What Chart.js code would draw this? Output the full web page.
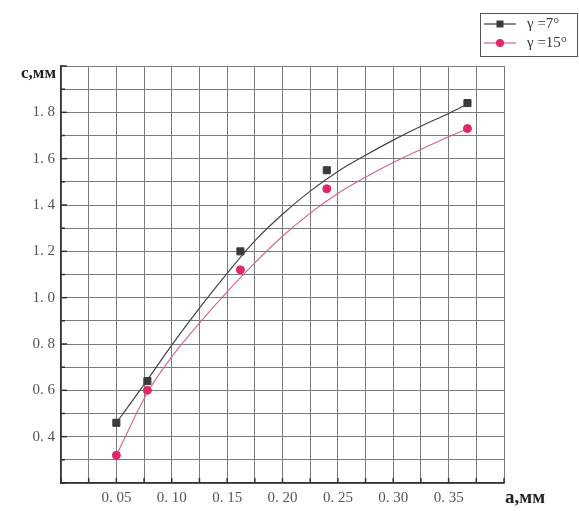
<!DOCTYPE html>
<html>
<head>
<meta charset="utf-8">
<script src="https://cdn.jsdelivr.net/npm/chart.js@4.4.0/dist/chart.umd.min.js"></script>
<style>
html, body { margin: 0; padding: 0; background: #fff; }
#contenedor { width: 579px; height: 511px; position: relative; }
</style>
</head>
<body>
<div id="contenedor"><canvas id="grafico"></canvas></div>
<script>
// datos medidos
const aMedido = [0.05, 0.078, 0.162, 0.24, 0.367];
const c7 = [0.46, 0.64, 1.20, 1.55, 1.84];
const c15 = [0.32, 0.60, 1.12, 1.47, 1.73];

// curvas de ajuste
const aCurva = [0.05, 0.078, 0.1, 0.125, 0.15, 0.175, 0.2, 0.225, 0.25, 0.275, 0.3, 0.325, 0.35, 0.367];
const curva7 = [0.46, 0.645, 0.795, 0.955, 1.105, 1.245, 1.36, 1.46, 1.545, 1.615, 1.68, 1.74, 1.795, 1.835];
const curva15 = [0.32, 0.59, 0.745, 0.89, 1.025, 1.15, 1.265, 1.365, 1.45, 1.52, 1.583, 1.64, 1.695, 1.728];

// etiquetas de los ejes
const xTickVals = [0.05, 0.10, 0.15, 0.20, 0.25, 0.30, 0.35];
const xTickLabels = ['0. 05', '0. 10', '0. 15', '0. 20', '0. 25', '0. 30', '0. 35'];
const yTickVals = [0.4, 0.6, 0.8, 1.0, 1.2, 1.4, 1.6, 1.8];
const yTickLabels = ['0. 4', '0. 6', '0. 8', '1. 0', '1. 2', '1. 4', '1. 6', '1. 8'];
const nombres = ['\u03b3 =7\u00b0', '\u03b3 =15\u00b0'];

const colorNegro = '#3a3a3a';
const colorRojo = '#e3266a';
const lineaRoja = '#d26484';
const fuente = '"Liberation Serif", "DejaVu Serif", serif';

function puntos(xs, ys) {
	return xs.map((x, i) => ({ x: x, y: ys[i] }));
}

function buscar(vals, labels, v) {
	for (let i = 0; i < vals.length; i++) {
		if (Math.abs(vals[i] - v) < 1e-6) return labels[i];
	}
	return '';
}

// marcas interiores, titulos y leyenda
const extras = {
	id: 'extras',
	afterDraw(chart) {
		const ctx = chart.ctx;
		const area = chart.chartArea;
		const sx = chart.scales.x;
		const sy = chart.scales.y;
		ctx.save();
		ctx.strokeStyle = '#333';
		ctx.lineWidth = 1.5;
		sy.ticks.forEach(t => {
			const py = sy.getPixelForValue(t.value);
			const mayor = Math.abs(Math.round(t.value * 10) % 2) === 0;
			const l = mayor ? 6 : 4;
			ctx.beginPath();
			ctx.moveTo(area.left, py);
			ctx.lineTo(area.left + l, py);
			ctx.stroke();
		});
		sx.ticks.forEach(t => {
			const px = sx.getPixelForValue(t.value);
			ctx.beginPath();
			ctx.moveTo(px, area.bottom);
			ctx.lineTo(px, area.bottom - 5);
			ctx.stroke();
		});

		// titulos de ejes
		ctx.fillStyle = '#222';
		ctx.font = 'bold 17px ' + fuente;
		ctx.textAlign = 'right';
		ctx.textBaseline = 'alphabetic';
		ctx.fillText('c,\u043c\u043c', 56, 78);
		ctx.textAlign = 'left';
		ctx.font = 'bold 19px ' + fuente;
		ctx.fillText('a,\u043c\u043c', 505, 503);

		// leyenda
		ctx.strokeStyle = '#555';
		ctx.lineWidth = 1;
		ctx.strokeRect(480.5, 13.5, 97, 43);
		const filas = [24, 43];
		chart.data.datasets.slice(0, 2).forEach((ds, i) => {
			const y = filas[i];
			ctx.strokeStyle = i === 0 ? colorNegro : lineaRoja;
			ctx.lineWidth = 1.2;
			ctx.beginPath();
			ctx.moveTo(484, y);
			ctx.lineTo(516, y);
			ctx.stroke();
			ctx.fillStyle = ds.backgroundColor;
			if (i === 0) {
				ctx.fillRect(496.5, y - 3.5, 7, 7);
			} else {
				ctx.beginPath();
				ctx.arc(500, y, 4, 0, Math.PI * 2);
				ctx.fill();
			}
			ctx.fillStyle = '#333';
			ctx.font = '15px ' + fuente;
			ctx.textAlign = 'left';
			ctx.textBaseline = 'middle';
			ctx.fillText(ds.label, 527, y);
		});
		ctx.restore();
	}
};

const ctx = document.getElementById('grafico').getContext('2d');
const miGrafico = new Chart(ctx, {
	type: 'scatter',
	data: {
		datasets: [
			{
				label: nombres[0],
				data: puntos(aMedido, c7),
				backgroundColor: colorNegro,
				borderColor: colorNegro,
				pointStyle: 'rect',
				pointRadius: 5,
				showLine: false,
				order: 0
			},
			{
				label: nombres[1],
				data: puntos(aMedido, c15),
				backgroundColor: colorRojo,
				borderColor: colorRojo,
				pointStyle: 'circle',
				pointRadius: 4,
				showLine: false,
				order: 0
			},
			{
				label: 'ajuste7',
				data: puntos(aCurva, curva7),
				borderColor: '#444',
				borderWidth: 1.2,
				pointRadius: 0,
				showLine: true,
				cubicInterpolationMode: 'monotone',
				order: 1
			},
			{
				label: 'ajuste15',
				data: puntos(aCurva, curva15),
				borderColor: lineaRoja,
				borderWidth: 1.1,
				pointRadius: 0,
				showLine: true,
				cubicInterpolationMode: 'monotone',
				order: 1
			}
		]
	},
	options: {
		responsive: true,
		maintainAspectRatio: false,
		animation: false,
		layout: { padding: { left: 0, top: 66, right: 75, bottom: 0 } },
		plugins: {
			legend: { display: false },
			tooltip: { enabled: false }
		},
		scales: {
			x: {
				type: 'linear',
				min: 0,
				max: 0.4,
				afterFit: s => { s.height = 28; },
				grid: { color: '#7a7a7a', lineWidth: 1, drawTicks: false },
				border: { color: '#333', width: 1.5 },
				ticks: {
					stepSize: 0.025,
					autoSkip: false,
					maxRotation: 0,
					padding: 6,
					color: '#555',
					font: { family: fuente, size: 15 },
					callback: v => buscar(xTickVals, xTickLabels, v)
				}
			},
			y: {
				type: 'linear',
				min: 0.2,
				max: 2.0,
				afterFit: s => { s.width = 61; },
				grid: { color: '#7a7a7a', lineWidth: 1, drawTicks: false },
				border: { color: '#333', width: 1.5 },
				ticks: {
					stepSize: 0.1,
					autoSkip: false,
					padding: 6,
					color: '#555',
					font: { family: fuente, size: 15 },
					callback: v => buscar(yTickVals, yTickLabels, v)
				}
			}
		}
	},
	plugins: [extras]
});
</script>
</body>
</html>
